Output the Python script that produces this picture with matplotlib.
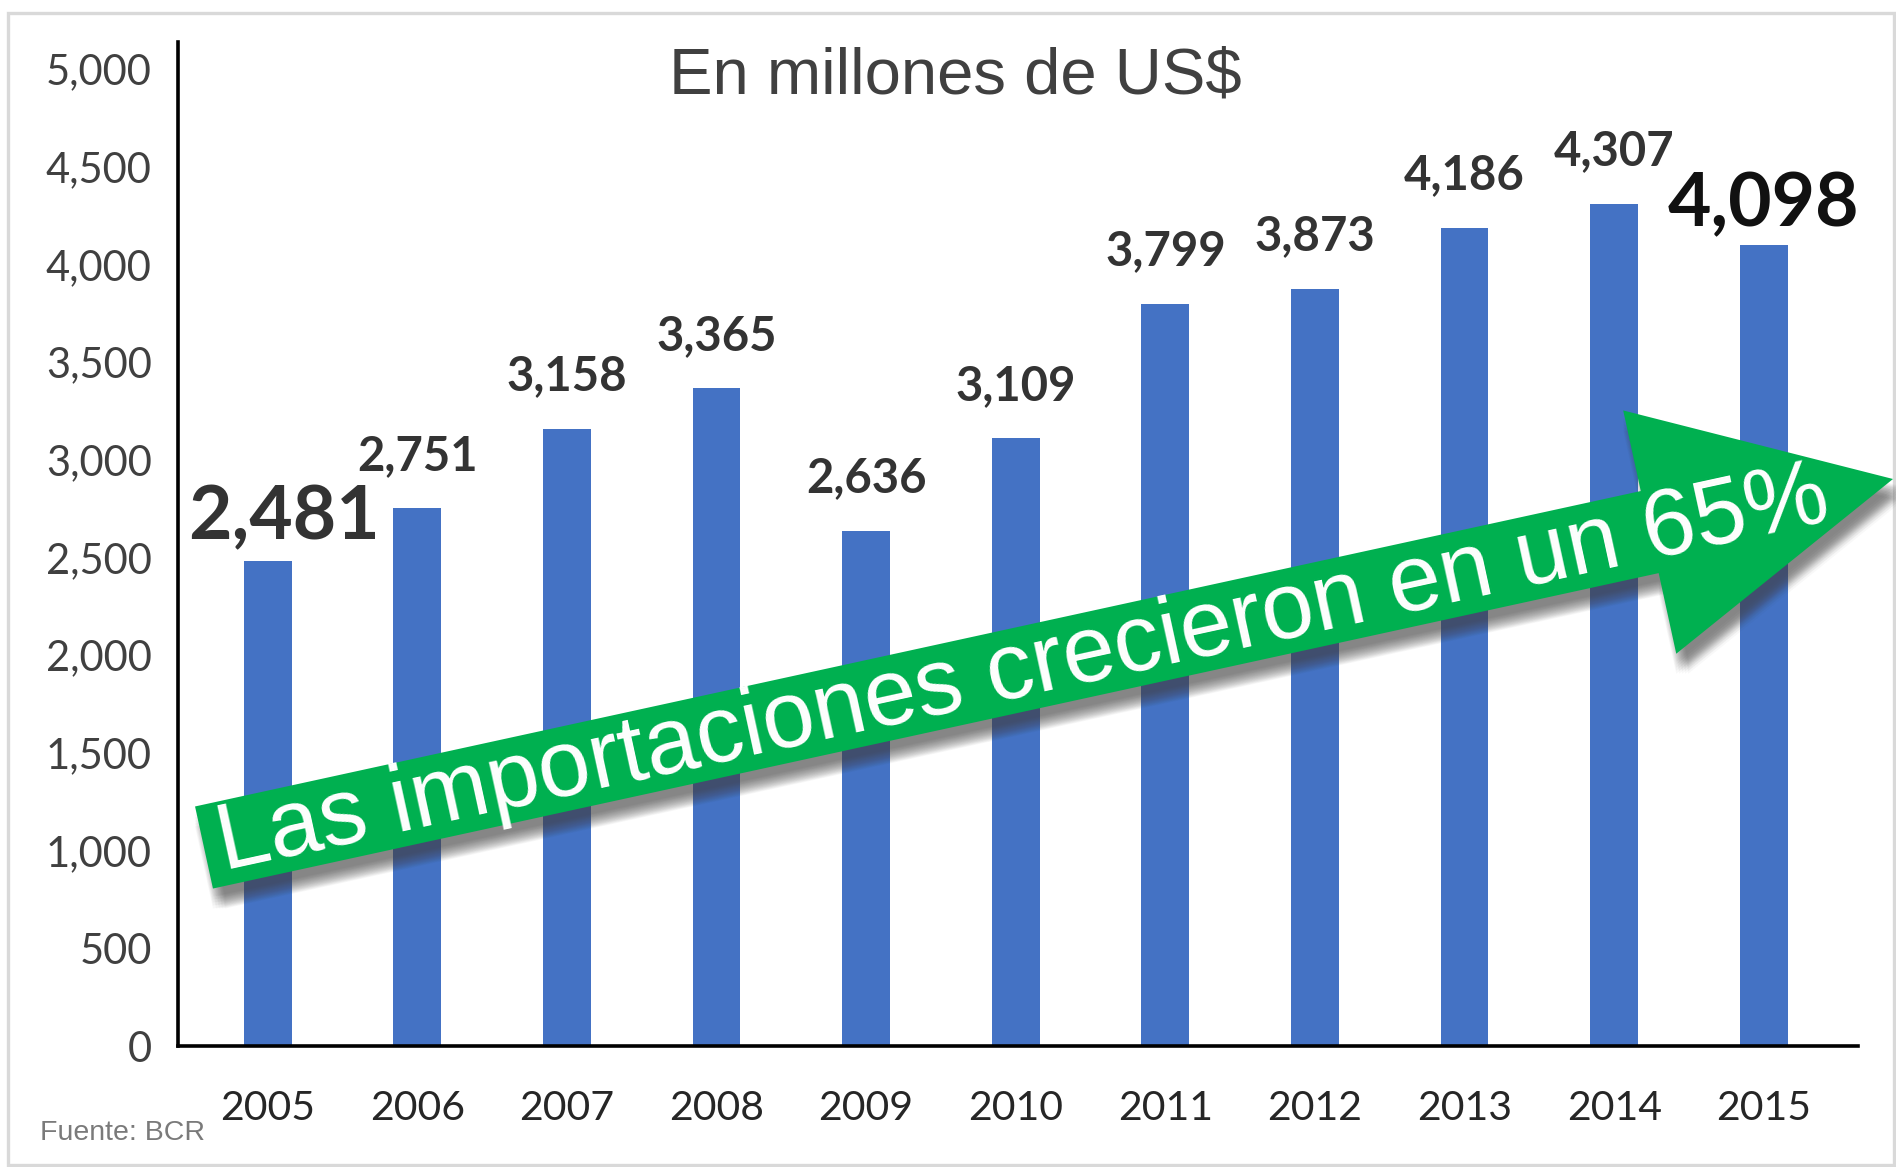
import numpy as np
import matplotlib
matplotlib.use('Agg')
import matplotlib.pyplot as plt
from matplotlib.patches import Polygon, Rectangle

# datos
years = ['2005', '2006', '2007', '2008', '2009', '2010',
         '2011', '2012', '2013', '2014', '2015']
imports = [2481, 2751, 3158, 3365, 2636, 3109, 3799, 3873, 4186, 4307, 4098]
yticks = list(range(0, 5001, 500))
title = 'En millones de US$'
arrow_text = 'Las importaciones crecieron en un 65%'
source = 'Fuente: BCR'

W, H = 1896, 1167
BLUE = '#4472C4'
GREEN = '#00B050'

fig = plt.figure(figsize=(W / 100, H / 100), dpi=100)
ax = fig.add_axes([178 / W, 1 - 1046 / H, (1858 - 178) / W, (1046 - 42) / H])

x = np.arange(len(years))
ax.bar(x, imports, width=0.32, color=BLUE, zorder=2)

ax.set_xlim(-0.60, 10.63)
ax.set_ylim(0, 5138)
ax.set_yticks(yticks)
ax.set_yticklabels([f'{v:,}' for v in yticks])
ax.set_xticks(x)
ax.set_xticklabels(years)
ax.tick_params(axis='y', length=0, pad=19, labelsize=30, labelcolor='#404040')
ax.tick_params(axis='x', length=0, pad=32, labelsize=29.5, labelcolor='#262626')
for lab in ax.get_xticklabels() + ax.get_yticklabels():
    lab.set_family('Lato')

for s in ['top', 'right']:
    ax.spines[s].set_visible(False)
for s in ['left', 'bottom']:
    ax.spines[s].set_linewidth(2.6)
    ax.spines[s].set_color('black')

# etiquetas de valor
last = len(imports) - 1
for i, v in enumerate(imports):
    if i == 0:
        size, color, off = 54, '#333333', (11.5, 31.5)
    elif i == last:
        size, color, off = 54, '#111111', (0, 29)
    else:
        size, color, off = 34, '#333333', (0, 38)
    ax.annotate(f'{v:,}', (i, v), xytext=off, textcoords='offset points',
                ha='center', va='center', fontsize=size, fontweight='bold',
                color=color, family='Lato', zorder=3)

# titulo y fuente
fig.text(955 / W, 1 - 77 / H, title, ha='center', va='center',
         fontsize=47, color='#404040', family='Liberation Sans')
fig.text(40 / W, 1 - 1133 / H, source, ha='left', va='center',
         fontsize=20.5, color='#7a7a7a', family='Liberation Sans')

# marco exterior
fig.patches.append(Rectangle((8 / W, 1 - 1165 / H), (1894 - 8) / W, (1165 - 13) / H,
                             transform=fig.transFigure, fill=False,
                             edgecolor='#d9d9d9', linewidth=2.4, zorder=0))

# flecha verde (en pixeles, y hacia abajo)
tail = np.array([204.0, 847.5])
tip = np.array([1893.0, 479.0])
band_w, head_w, head_l = 84.0, 249.0, 249.0
u = (tip - tail) / np.linalg.norm(tip - tail)
n = np.array([-u[1], u[0]])
base = tip - head_l * u
pts = np.array([
    tail - band_w / 2 * n,
    base - band_w / 2 * n,
    base - head_w / 2 * n,
    tip,
    base + head_w / 2 * n,
    base + band_w / 2 * n,
    tail + band_w / 2 * n,
])


def to_fig(p):
    return np.column_stack([p[:, 0] / W, 1 - p[:, 1] / H])


# sombra difusa
for dx in np.linspace(-6, 6, 5):
    for dy in np.linspace(-6, 6, 5):
        sh = pts + np.array([6 + dx, 14 + dy])
        fig.patches.append(Polygon(to_fig(sh), closed=True, transform=fig.transFigure,
                                   facecolor='#404040', edgecolor='none',
                                   alpha=0.035, zorder=4))
fig.patches.append(Polygon(to_fig(pts), closed=True, transform=fig.transFigure,
                           facecolor=GREEN, edgecolor='none', zorder=5))

angle = np.degrees(np.arctan2(-u[1], u[0]))
mid = tail + 838 * u + 27 * n
fig.text(mid[0] / W, 1 - mid[1] / H, arrow_text, rotation=angle,
         rotation_mode='anchor', ha='center', va='baseline',
         fontsize=67.5, color='white', family='Liberation Sans', zorder=6)

fig.savefig('out.png', dpi=100)
